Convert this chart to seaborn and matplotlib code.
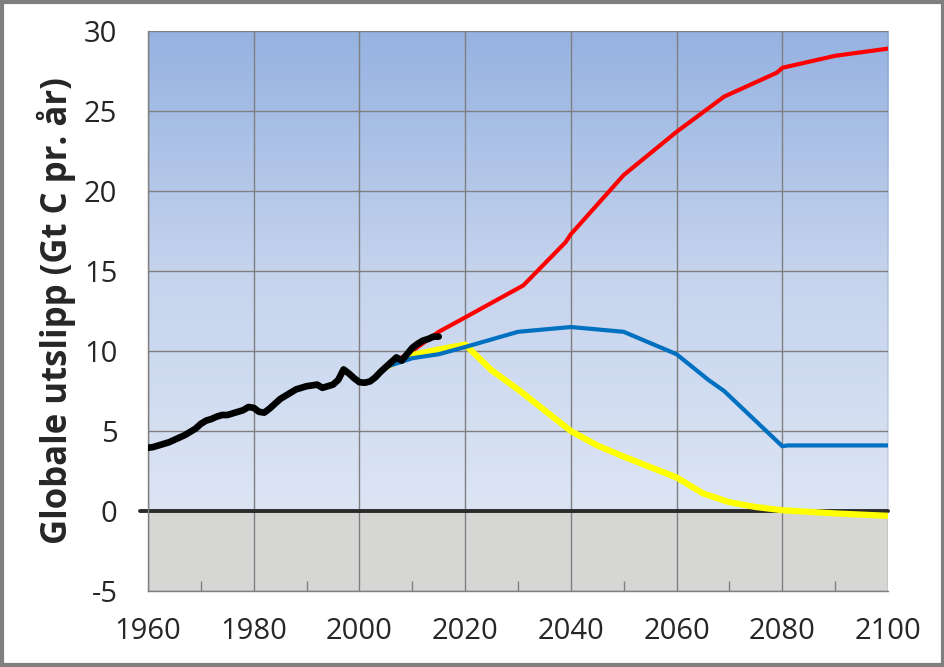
import numpy as np
import pandas as pd
import seaborn as sns
import matplotlib.pyplot as plt
from matplotlib.colors import LinearSegmentedColormap
from matplotlib.patches import Rectangle

# historiske utslipp (svart)
hist_years = list(range(1960, 2016))
hist_vals = [3.95, 4.0, 4.1, 4.2, 4.3, 4.45, 4.6, 4.75, 4.95, 5.15,
             5.45, 5.65, 5.75, 5.9, 6.0, 6.0, 6.1, 6.2, 6.3, 6.5,
             6.45, 6.2, 6.15, 6.4, 6.7, 7.0, 7.2, 7.4, 7.6, 7.7,
             7.8, 7.85, 7.9, 7.7, 7.8, 7.9, 8.2, 8.85, 8.6, 8.3,
             8.05, 8.02, 8.1, 8.35, 8.7, 9.0, 9.3, 9.6, 9.4, 9.8,
             10.2, 10.45, 10.65, 10.75, 10.9, 10.9]

red_years = [2005, 2010, 2015, 2020, 2031, 2039, 2040, 2050, 2060, 2069, 2079, 2080, 2090, 2100]
red_vals = [9.0, 10.0, 11.2, 12.1, 14.1, 16.8, 17.3, 21.0, 23.7, 25.9, 27.4, 27.7, 28.45, 28.9]

blue_years = [2005, 2010, 2015, 2020, 2030, 2040, 2050, 2060, 2066, 2069, 2080, 2081, 2100]
blue_vals = [9.0, 9.55, 9.8, 10.25, 11.2, 11.5, 11.2, 9.8, 8.2, 7.5, 4.05, 4.1, 4.1]

yellow_years = [2005, 2010, 2015, 2020, 2025, 2030, 2035, 2040, 2045, 2050, 2055,
                2060, 2065, 2070, 2075, 2080, 2090, 2100]
yellow_vals = [9.0, 9.75, 10.1, 10.4, 8.8, 7.6, 6.3, 5.0, 4.1, 3.4, 2.75,
               2.1, 1.1, 0.55, 0.25, 0.05, -0.15, -0.3]

x_ticks = [1960, 1980, 2000, 2020, 2040, 2060, 2080, 2100]
y_ticks = [-5, 0, 5, 10, 15, 20, 25, 30]

sns.set_style("white")
plt.rcParams['font.family'] = ['Open Sans', 'DejaVu Sans']
plt.rcParams['axes.unicode_minus'] = False

fig = plt.figure(figsize=(9.45, 6.67), dpi=100)
ax = fig.add_axes([0.1566, 0.1139, 0.7831, 0.8396])

# bakgrunn: blå gradient over 0, grå under
cmap = LinearSegmentedColormap.from_list("bg", ["#dce5f4", "#c5d3ed", "#95b2e1"])
grad = np.linspace(0, 1, 256).reshape(-1, 1)
ax.imshow(grad, extent=[1960, 2100, 0, 30], origin="lower", aspect="auto",
          cmap=cmap, zorder=0)
ax.axhspan(-5, 0, color="#d6d7d5", zorder=0)

grid_col = "#7f7f7f"
for x in x_ticks:
    ax.axvline(x, color=grid_col, lw=1, zorder=1)
for y in y_ticks:
    ax.axhline(y, color=grid_col, lw=1, zorder=1)

ax.plot([1958.5, 2100], [0, 0], color="#2b2b2b", lw=2.8, zorder=2, clip_on=False)

df_red = pd.DataFrame({"år": red_years, "utslipp": red_vals})
df_blue = pd.DataFrame({"år": blue_years, "utslipp": blue_vals})
df_yellow = pd.DataFrame({"år": yellow_years, "utslipp": yellow_vals})
df_hist = pd.DataFrame({"år": hist_years, "utslipp": hist_vals})

sns.lineplot(data=df_red, x="år", y="utslipp", color="#ff0000", lw=3, ax=ax, zorder=3)
sns.lineplot(data=df_yellow, x="år", y="utslipp", color="#ffff00", lw=4.5, ax=ax, zorder=4)
sns.lineplot(data=df_blue, x="år", y="utslipp", color="#0070c0", lw=3, ax=ax, zorder=5)
sns.lineplot(data=df_hist, x="år", y="utslipp", color="black", lw=4.8, ax=ax, zorder=6,
             solid_capstyle="round", solid_joinstyle="round")

ax.set_xlim(1960, 2100)
ax.set_ylim(-5, 30)
ax.set_xticks(x_ticks)
ax.set_yticks(y_ticks)
ax.set_xticks(range(1970, 2100, 20), minor=True)
ax.tick_params(axis="both", which="major", labelsize=21, color=grid_col,
               length=7, width=1, direction="out")
ax.tick_params(axis="x", which="major", pad=12)
ax.tick_params(axis="y", which="major", pad=15)
ax.tick_params(axis="x", which="minor", color=grid_col, length=7, width=1,
               direction="in", bottom=True)
ax.set_xlabel("")
ax.set_ylabel("Globale utslipp (Gt C pr. år)", fontsize=25, fontweight="bold", labelpad=6)

for side in ["top", "right"]:
    ax.spines[side].set_visible(False)
for side in ["left", "bottom"]:
    ax.spines[side].set_color(grid_col)
    ax.spines[side].set_linewidth(1)

fig.patches.append(Rectangle((0.002, 0.003), 0.996, 0.994, transform=fig.transFigure,
                             fill=False, edgecolor="#7f7f7f", lw=3))

fig.savefig("out.png", dpi=100)
